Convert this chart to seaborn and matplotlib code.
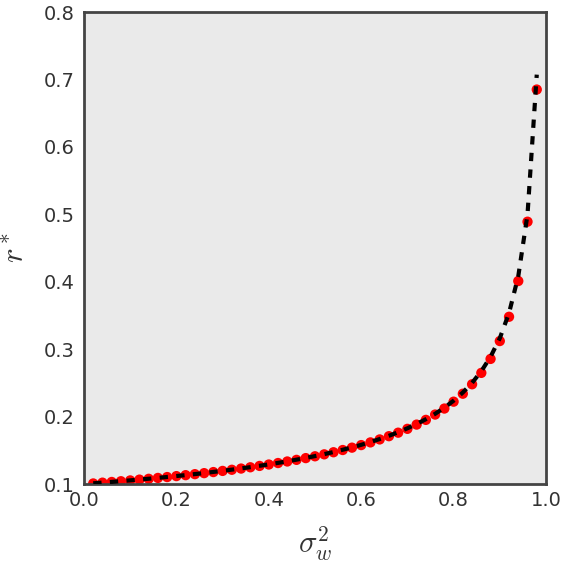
import matplotlib
matplotlib.use("Agg")
import matplotlib.pyplot as plt
import seaborn as sns
import pandas as pd

sigma_w2 = [0.02, 0.04, 0.06, 0.08, 0.10, 0.12, 0.14, 0.16, 0.18, 0.20,
            0.22, 0.24, 0.26, 0.28, 0.30, 0.32, 0.34, 0.36, 0.38, 0.40,
            0.42, 0.44, 0.46, 0.48, 0.50, 0.52, 0.54, 0.56, 0.58, 0.60,
            0.62, 0.64, 0.66, 0.68, 0.70, 0.72, 0.74, 0.76, 0.78, 0.80,
            0.82, 0.84, 0.86, 0.88, 0.90, 0.92, 0.94, 0.96, 0.98]

r_theory = [0.1010, 0.1021, 0.1031, 0.1043, 0.1054, 0.1066, 0.1078, 0.1091, 0.1104, 0.1118,
            0.1132, 0.1147, 0.1162, 0.1179, 0.1195, 0.1213, 0.1231, 0.1250, 0.1270, 0.1291,
            0.1313, 0.1336, 0.1361, 0.1387, 0.1414, 0.1443, 0.1474, 0.1508, 0.1543, 0.1581,
            0.1622, 0.1667, 0.1715, 0.1768, 0.1826, 0.1890, 0.1961, 0.2041, 0.2132, 0.2236,
            0.2357, 0.2500, 0.2673, 0.2887, 0.3162, 0.3536, 0.4082, 0.5000, 0.7071]

r_sim = [0.1008, 0.1020, 0.1030, 0.1041, 0.1053, 0.1065, 0.1077, 0.1090, 0.1103, 0.1117,
         0.1131, 0.1146, 0.1161, 0.1177, 0.1194, 0.1211, 0.1229, 0.1248, 0.1268, 0.1289,
         0.1311, 0.1334, 0.1358, 0.1384, 0.1411, 0.1440, 0.1471, 0.1504, 0.1539, 0.1577,
         0.1617, 0.1661, 0.1709, 0.1761, 0.1818, 0.1881, 0.1951, 0.2030, 0.2119, 0.2221,
         0.2339, 0.2479, 0.2648, 0.2855, 0.3120, 0.3480, 0.4010, 0.4890, 0.6850]

df = pd.DataFrame({"x": sigma_w2, "theory": r_theory, "sim": r_sim})

sns.set_style("white")
plt.rcParams["font.family"] = ["DejaVu Sans"]
plt.rcParams["mathtext.fontset"] = "cm"

fig = plt.figure(figsize=(5.64, 5.62), dpi=100)
ax = fig.add_axes([84/564, 1-484/562, 462/564, 472/562])
ax.set_facecolor("#EAEAEA")

sns.scatterplot(data=df, x="x", y="sim", ax=ax, color="red", s=55,
                edgecolor="none", zorder=2)
sns.lineplot(data=df, x="x", y="theory", ax=ax, color="black", lw=3,
             dashes=False, zorder=3).lines[0].set_dashes((2, 2))

ax.set_xlim(0, 1)
ax.set_ylim(0.1, 0.8)
ax.set_xticks([0.0, 0.2, 0.4, 0.6, 0.8, 1.0])
ax.set_yticks([0.1, 0.2, 0.3, 0.4, 0.5, 0.6, 0.7, 0.8])
ax.tick_params(axis="both", labelsize=14, colors="#333333", length=0, pad=7)
ax.tick_params(axis="x", pad=5)
ax.set_xlabel(r"$\sigma_w^2$", fontsize=22, color="#333333", labelpad=10)
ax.set_ylabel(r"$r^*$", fontsize=22, color="#333333", labelpad=10)
for sp in ax.spines.values():
    sp.set_visible(True)
    sp.set_color("#444444")
    sp.set_linewidth(2)

fig.savefig("out.png", dpi=100)
